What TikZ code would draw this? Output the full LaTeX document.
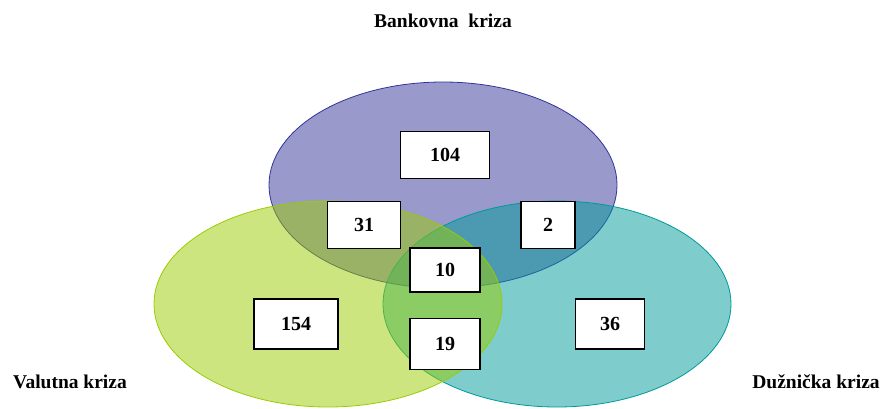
\documentclass[tikz,border=0pt]{standalone}
\usepackage{fontspec}
\setmainfont{Liberation Serif}
\usepackage{tikz}
\usetikzlibrary{calc}
\usepackage{tkz-euclide}
\usepackage{xcolor}
\definecolor{BankPurple}{HTML}{333399}
\definecolor{ValutaGreen}{HTML}{99CC00}
\definecolor{DugTeal}{HTML}{009999}

\tikzset{
  setfill/.style={fill=#1,fill opacity=0.5,draw=#1,line width=0.8pt},
  numbox/.style={draw,line width=1.6pt,fill=white,inner sep=0pt,
    font=\fontsize{20}{22}\selectfont\bfseries},
  setlabel/.style={font=\fontsize{19.5}{22}\selectfont\bfseries}
}

\begin{document}
\begin{tikzpicture}[x=1pt,y=-1pt]
    \useasboundingbox (0,0) rectangle (883,408);
    \tkzDefPoint(443,185){B}
    \tkzDefPoint(328,304){V}
    \tkzDefPoint(557,304){D}

    \path[setfill=BankPurple] (B) ellipse [x radius=174,y radius=103];
    \path[setfill=DugTeal] (D) ellipse [x radius=174,y radius=103];
    \path[setfill=ValutaGreen] (V) ellipse [x radius=174,y radius=103];

    \node[numbox,minimum width=89,minimum height=47] (n104) at (445,155) {104};
    \node[numbox,minimum width=73,minimum height=47] (n31) at (364,225) {31};
    \node[numbox,minimum width=54,minimum height=47] (n2) at (548,225) {2};
    \node[numbox,minimum width=70,minimum height=44] (n10) at (445,270) {10};
    \node[numbox,minimum width=84,minimum height=50] (n154) at (296,324) {154};
    \node[numbox,minimum width=70,minimum height=51] (n19) at (445,344) {19};
    \node[numbox,minimum width=69,minimum height=50] (n36) at (610,324) {36};

    \node[setlabel] (bank) at (443,21) {Bankovna\hspace{0.5em}kriza};
    \node[setlabel] (valuta) at (70,382) {Valutna kriza};
    \node[setlabel] (dug) at (816,382) {Dužnička kriza};
\end{tikzpicture}
\end{document}
